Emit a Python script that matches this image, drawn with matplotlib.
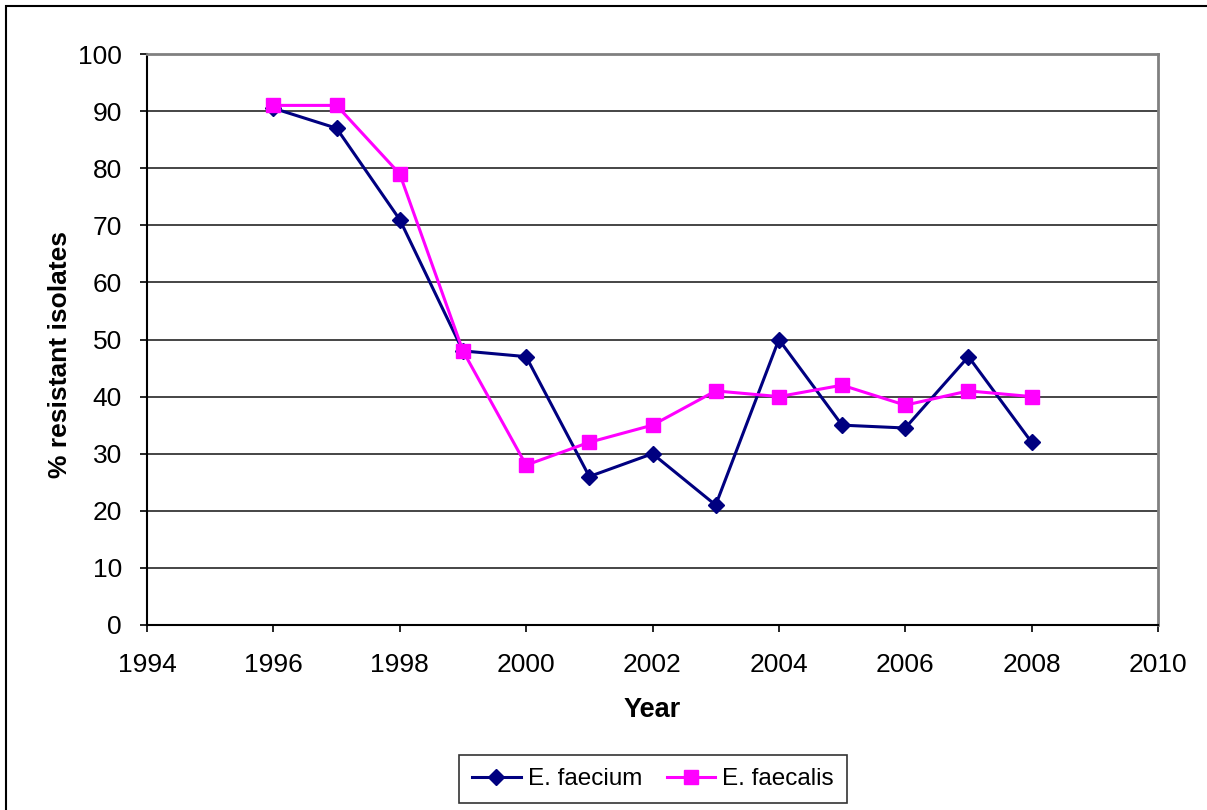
import matplotlib as mpl
import matplotlib.pyplot as plt
from matplotlib.patches import Rectangle

mpl.rcParams.update({
    "font.family": "sans-serif",
    "font.sans-serif": ["Liberation Sans", "DejaVu Sans"],
    "font.size": 19,
})

years = [1996, 1997, 1998, 1999, 2000, 2001, 2002, 2003, 2004, 2005, 2006, 2007, 2008]
faecium = [90.5, 87, 71, 48, 47, 26, 30, 21, 50, 35, 34.5, 47, 32]
faecalis = [91, 91, 79, 48, 28, 32, 35, 41, 40, 42, 38.5, 41, 40]

W, H = 1207, 810
fig = plt.figure(figsize=(W / 100, H / 100), dpi=100)
ax = fig.add_axes([147 / W, 1 - 625 / H, (1158 - 147) / W, (625 - 54) / H])

# outer chart frame
fig.patches.append(Rectangle((6 / W, -0.1), 1.2, 1 - 6 / H + 0.1,
                             transform=fig.transFigure, fill=False,
                             edgecolor="black", linewidth=1.5, zorder=0))

ax.plot(years, faecium, color="#000080", marker="D", markersize=8,
        linewidth=2.2, label="E. faecium", zorder=3)
ax.plot(years, faecalis, color="#FF00FF", marker="s", markersize=10,
        linewidth=2.2, label="E. faecalis", zorder=4)

ax.set_xlim(1994, 2010)
ax.set_ylim(0, 100)
ax.set_xticks(range(1994, 2011, 2))
ax.set_yticks(range(0, 101, 10))
ax.yaxis.grid(True, color="#262626", linewidth=1.2)
ax.set_axisbelow(True)

for side in ("top", "right"):
    ax.spines[side].set_color("#808080")
    ax.spines[side].set_linewidth(2)
for side in ("left", "bottom"):
    ax.spines[side].set_color("black")
    ax.spines[side].set_linewidth(1.5)

ax.tick_params(direction="out", length=5, width=1.2, labelsize=19)
ax.tick_params(axis="x", pad=15)
ax.tick_params(axis="y", pad=13)

ax.set_xlabel("Year", fontweight="bold", fontsize=19.5, va="center")
ax.set_ylabel("% resistant isolates", fontweight="bold", fontsize=19, va="center")
ax.xaxis.set_label_coords(0.5, (625 - 710) / 571)
ax.yaxis.set_label_coords((60 - 147) / 1011, (625 - 355) / 571)

leg = fig.legend(loc="center", bbox_to_anchor=(653 / W, 1 - 779 / H), ncol=2,
                 frameon=True, fancybox=False, edgecolor="black",
                 fontsize=17.5, handlelength=2.0, columnspacing=1.0,
                 handletextpad=0.3, borderpad=0.55)
leg.get_frame().set_linewidth(1.2)

fig.savefig("out.png", dpi=100)
